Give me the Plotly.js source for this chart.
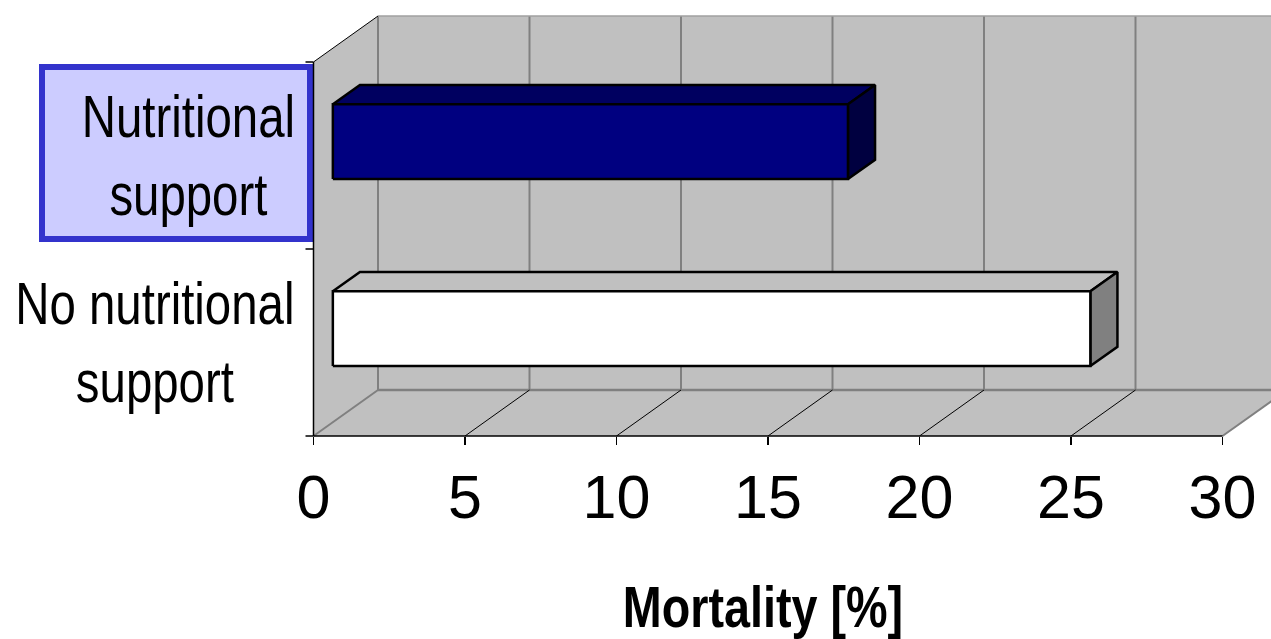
<!DOCTYPE html>
<html>
<head>
<meta charset="utf-8">
<script src="https://cdn.plot.ly/plotly-3.0.1.min.js"></script>
<style>
  html, body { margin: 0; padding: 0; background: #ffffff; }
  #chart { width: 1271px; height: 639px; }
</style>
</head>
<body>
<div id="chart"></div>
<script>
// Mortality by nutritional support (percent)
const categories = ['No nutritional<br>support', 'Nutritional<br>support'];
const mortality = [25, 17];
const tickValues = [0, 5, 10, 15, 20, 25, 30];

// Styling of the bars, bottom category first
const faceColors = [
  { front: '#ffffff', top: '#c0c0c0', side: '#808080' },
  { front: '#000080', top: '#000060', side: '#000040' }
];

// Figure / projection geometry (pixels)
const W = 1271, H = 639;
const ORIGIN_X_PX = 313.5;      // value 0 on the front plane
const PX_PER_UNIT = 30.3;       // horizontal pixels per percent
const FLOOR_Y_PX = 436;         // front edge of the floor
const BAND_PX = 187;            // height of one category band
const DEPTH_DX_PX = 64.5;       // oblique depth offset
const DEPTH_DY_PX = 46;

const X_MAX = tickValues[tickValues.length - 1];
const NCAT = categories.length;
const DDX = DEPTH_DX_PX / PX_PER_UNIT;
const DDY = DEPTH_DY_PX / BAND_PX;

const xRange = [-ORIGIN_X_PX / PX_PER_UNIT, (W - ORIGIN_X_PX) / PX_PER_UNIT];
const yRange = [-(H - FLOOR_Y_PX) / BAND_PX, FLOOR_Y_PX / BAND_PX];

// project (value, band position, depth fraction) onto the chart axes
function proj(v, b, f) { return [v + f * DDX, b + f * DDY]; }

const traces = [];
function poly(pts, fill, lineColor, lineWidth) {
  const xs = pts.map(p => p[0]), ys = pts.map(p => p[1]);
  xs.push(xs[0]); ys.push(ys[0]);
  traces.push({
    type: 'scatter', mode: 'lines', x: xs, y: ys,
    fill: 'toself', fillcolor: fill,
    line: { color: lineColor || fill, width: lineWidth || 0 },
    hoverinfo: 'skip', showlegend: false
  });
}
function seg(a, b, color, width) {
  traces.push({
    type: 'scatter', mode: 'lines', x: [a[0], b[0]], y: [a[1], b[1]],
    line: { color: color, width: width },
    hoverinfo: 'skip', showlegend: false
  });
}

const WALL = '#c0c0c0';
// back wall, left wall, floor
poly([proj(0, 0, 1), proj(X_MAX, 0, 1), proj(X_MAX, NCAT, 1), proj(0, NCAT, 1)], WALL);
poly([proj(0, 0, 0), proj(0, 0, 1), proj(0, NCAT, 1), proj(0, NCAT, 0)], WALL);
poly([proj(0, 0, 0), proj(X_MAX, 0, 0), proj(X_MAX, 0, 1), proj(0, 0, 1)], WALL);

// back wall gridlines and edges
tickValues.forEach(v => seg(proj(v, 0, 1), proj(v, NCAT, 1), '#808080', 2));
seg(proj(0, NCAT, 1), proj(X_MAX, NCAT, 1), '#a0a0a0', 1.5);
seg(proj(0, 0, 1), proj(X_MAX, 0, 1), '#808080', 2.5);
// floor lines running into depth
tickValues.forEach((v, i) => {
  const edge = (i === 0 || i === tickValues.length - 1);
  seg(proj(v, 0, 0), proj(v, 0, 1), edge ? '#808080' : '#000000', edge ? 2 : 1);
});
// left wall top edge
seg(proj(0, NCAT, 0), proj(0, NCAT, 1), '#000000', 1);

// bars
const BAR_HALF = 0.2, F_FRONT = 0.3, F_BACK = 0.72;
mortality.forEach((v, i) => {
  const c = i + 0.5, lo = c - BAR_HALF, hi = c + BAR_HALF, col = faceColors[i];
  poly([proj(0, hi, F_FRONT), proj(v, hi, F_FRONT), proj(v, hi, F_BACK), proj(0, hi, F_BACK)], col.top, '#000000', 2.5);
  poly([proj(v, lo, F_FRONT), proj(v, lo, F_BACK), proj(v, hi, F_BACK), proj(v, hi, F_FRONT)], col.side, '#000000', 2.5);
  poly([proj(0, lo, F_FRONT), proj(v, lo, F_FRONT), proj(v, hi, F_FRONT), proj(0, hi, F_FRONT)], col.front, '#000000', 2.5);
});

// axis lines and category ticks
const tickOut = 8 / PX_PER_UNIT;
seg(proj(0, 0, 0), proj(X_MAX, 0, 0), '#000000', 1.5);
seg(proj(0, 0, 0), proj(0, NCAT, 0), '#000000', 1.5);
for (let k = 0; k <= NCAT; k++) seg([-tickOut, k], [0, k], '#000000', 1.5);

// pixel -> paper helpers for label placement
const pxX = px => px / W;
const pxY = py => 1 - py / H;

const sans = 'Liberation Sans, Arial, sans-serif';

const annotations = categories.map((name, i) => ({
  text: name, xref: 'paper', yref: 'y',
  x: pxX(297), y: i + 0.5,
  xanchor: 'right', yanchor: 'middle', align: 'center',
  showarrow: false,
  font: { family: sans, size: 60, color: '#000000' }
}));
annotations.push({
  text: '<b>Mortality [%]</b>', xref: 'paper', yref: 'paper',
  x: pxX(763), y: pxY(607), xanchor: 'center', yanchor: 'middle',
  showarrow: false,
  font: { family: sans, size: 57, color: '#000000' }
});

const layout = {
  width: W, height: H,
  margin: { l: 0, r: 0, t: 0, b: 0 },
  paper_bgcolor: '#ffffff', plot_bgcolor: '#ffffff',
  showlegend: false,
  xaxis: {
    range: xRange, showgrid: false, zeroline: false, showline: false,
    tickmode: 'array', tickvals: tickValues, ticktext: tickValues.map(String),
    ticks: 'outside', ticklen: 8, tickwidth: 1.5, tickcolor: '#000000',
    anchor: 'free', position: pxY(FLOOR_Y_PX),
    ticklabelstandoff: 0,
    tickfont: { family: sans, size: 61, color: '#000000' },
    fixedrange: true
  },
  yaxis: {
    range: yRange, showgrid: false, zeroline: false, showline: false,
    showticklabels: false, ticks: '', fixedrange: true
  },
  shapes: [{
    type: 'rect', xref: 'paper', yref: 'paper',
    x0: pxX(42), x1: pxX(310), y0: pxY(67), y1: pxY(239),
    fillcolor: '#ccccff', line: { color: '#3333cc', width: 6 },
    layer: 'below'
  }],
  annotations: annotations
};

// labels are set in a narrow cut of the sans face
const NARROW = 0.79;
Plotly.newPlot('chart', traces, layout, { displayModeBar: false, staticPlot: true }).then(gd => {
  gd.querySelectorAll('.annotation').forEach((g, idx) => {
    const t = g.querySelector('text.annotation-text');
    if (!t) return;
    const ann = layout.annotations[idx];
    const isTitle = ann && ann.xanchor === 'center';
    t.style.transformBox = 'fill-box';
    t.style.transformOrigin = isTitle ? 'center center' : 'right center';
    t.style.transform = 'scaleX(' + (isTitle ? 0.82 : NARROW) + ')';
  });
});
</script>
</body>
</html>
